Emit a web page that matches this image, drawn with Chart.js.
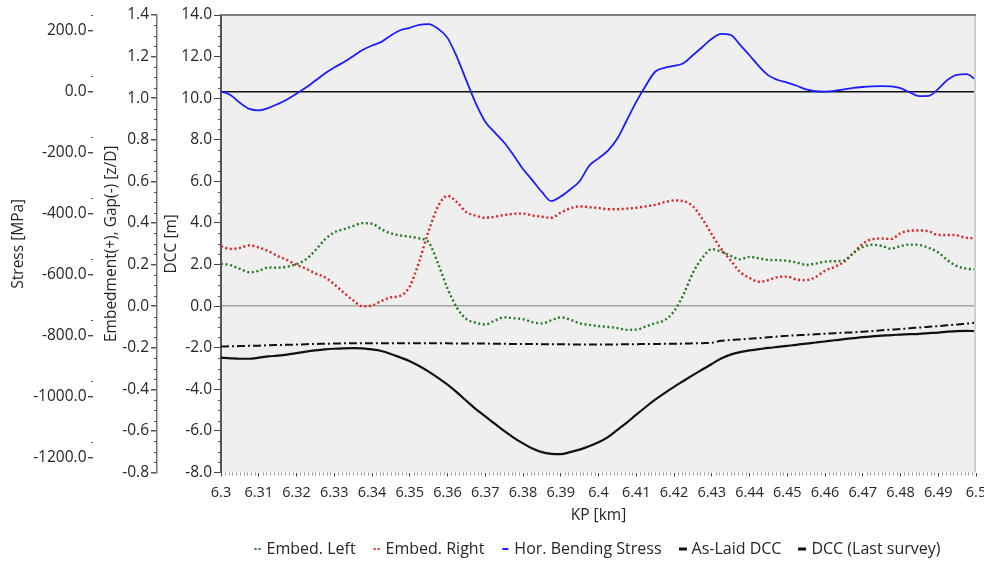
<!DOCTYPE html>
<html><head><meta charset="utf-8">
<script src="https://cdn.jsdelivr.net/npm/chart.js@4.4.0/dist/chart.umd.min.js"></script>
<style>html,body{margin:0;padding:0;background:#fff;}#wrap{width:984px;height:562px;position:relative;}</style>
</head><body><div id="wrap"><canvas id="c"></canvas></div>
<script>
// ---- data ----
const kp = [
 6.3000,6.3025,6.3050,6.3075,6.3100,6.3125,6.3150,6.3175,6.3200,6.3225,
 6.3250,6.3275,6.3300,6.3325,6.3350,6.3375,6.3400,6.3425,6.3450,6.3475,
 6.3500,6.3525,6.3550,6.3575,6.3600,6.3625,6.3650,6.3675,6.3700,6.3725,
 6.3750,6.3775,6.3800,6.3825,6.3850,6.3875,6.3900,6.3925,6.3950,6.3975,
 6.4000,6.4025,6.4050,6.4075,6.4100,6.4125,6.4150,6.4175,6.4200,6.4225,
 6.4250,6.4275,6.4300,6.4325,6.4350,6.4375,6.4400,6.4425,6.4450,6.4475,
 6.4500,6.4525,6.4550,6.4575,6.4600,6.4625,6.4650,6.4675,6.4700,6.4725,
 6.4750,6.4775,6.4800,6.4825,6.4850,6.4875,6.4900,6.4925,6.4950,6.4975,
 6.5000];
const embedLeft = [
 0.204,0.197,0.180,0.163,0.170,0.186,0.185,0.190,0.202,0.225,
 0.268,0.320,0.355,0.370,0.385,0.399,0.396,0.370,0.350,0.340,
 0.334,0.326,0.307,0.205,0.085,-0.008,-0.062,-0.080,-0.088,-0.070,
 -0.054,-0.058,-0.063,-0.077,-0.083,-0.068,-0.054,-0.065,-0.083,-0.090,
 -0.096,-0.100,-0.106,-0.114,-0.113,-0.098,-0.082,-0.068,-0.025,0.055,
 0.160,0.232,0.274,0.262,0.242,0.225,0.237,0.230,0.222,0.221,
 0.218,0.210,0.198,0.205,0.214,0.216,0.219,0.255,0.285,0.295,
 0.290,0.276,0.289,0.296,0.294,0.280,0.258,0.220,0.192,0.180,
 0.176];
const embedRight = [
 0.288,0.275,0.280,0.292,0.282,0.265,0.241,0.222,0.198,0.180,
 0.157,0.139,0.105,0.065,0.028,-0.001,0.003,0.025,0.042,0.050,
 0.095,0.215,0.360,0.480,0.530,0.500,0.452,0.435,0.425,0.430,
 0.438,0.444,0.445,0.436,0.430,0.425,0.450,0.470,0.480,0.476,
 0.472,0.466,0.466,0.469,0.473,0.480,0.487,0.500,0.508,0.505,
 0.480,0.420,0.345,0.275,0.220,0.165,0.135,0.117,0.125,0.140,
 0.142,0.128,0.125,0.140,0.170,0.188,0.212,0.255,0.300,0.322,
 0.325,0.323,0.350,0.363,0.364,0.360,0.342,0.342,0.340,0.328,
 0.327];
const horBendingStress = [
 -1,-12,-38,-58,-63,-55,-42,-27,-8,12,
 35,58,78,95,115,135,150,162,183,200,
 208,218,220,205,175,112,35,-40,-100,-135,
 -168,-210,-255,-292,-330,-360,-345,-322,-295,-245,
 -220,-195,-155,-95,-35,18,64,77,83,92,
 118,145,172,188,185,152,118,82,52,37,
 28,18,6,0,-1,1,6,11,14,16,
 17,16,10,-4,-16,-15,8,38,54,56,
 37];
const asLaidDCC = [
 -1.94,-1.93,-1.92,-1.91,-1.90,-1.88,-1.87,-1.86,-1.85,-1.83,
 -1.82,-1.81,-1.80,-1.79,-1.78,-1.78,-1.78,-1.78,-1.78,-1.78,
 -1.78,-1.79,-1.79,-1.79,-1.79,-1.80,-1.80,-1.80,-1.80,-1.81,
 -1.81,-1.82,-1.82,-1.82,-1.83,-1.83,-1.83,-1.84,-1.84,-1.84,
 -1.84,-1.84,-1.84,-1.83,-1.83,-1.82,-1.82,-1.81,-1.81,-1.80,
 -1.79,-1.78,-1.76,-1.67,-1.63,-1.60,-1.57,-1.54,-1.50,-1.46,
 -1.43,-1.40,-1.38,-1.35,-1.33,-1.30,-1.28,-1.26,-1.23,-1.20,
 -1.16,-1.13,-1.10,-1.06,-1.03,-0.99,-0.96,-0.92,-0.88,-0.84,
 -0.80];
const dccLastSurvey = [
 -2.48,-2.51,-2.53,-2.53,-2.48,-2.42,-2.38,-2.33,-2.26,-2.19,
 -2.13,-2.08,-2.05,-2.03,-2.02,-2.03,-2.08,-2.16,-2.30,-2.47,
 -2.65,-2.88,-3.15,-3.45,-3.78,-4.15,-4.55,-4.95,-5.30,-5.65,
 -6.00,-6.32,-6.60,-6.85,-7.02,-7.10,-7.12,-7.02,-6.90,-6.74,
 -6.55,-6.30,-5.95,-5.60,-5.22,-4.85,-4.50,-4.18,-3.88,-3.60,
 -3.32,-3.05,-2.78,-2.52,-2.33,-2.21,-2.13,-2.07,-2.01,-1.96,
 -1.91,-1.86,-1.80,-1.75,-1.70,-1.64,-1.59,-1.54,-1.49,-1.45,
 -1.42,-1.39,-1.37,-1.35,-1.33,-1.30,-1.27,-1.23,-1.20,-1.19,
 -1.20];
const stressTicks = [200, 0, -200, -400, -600, -800, -1000, -1200];
const embedTicks = [1.4, 1.2, 1.0, 0.8, 0.6, 0.4, 0.2, 0.0, -0.2, -0.4, -0.6, -0.8];
const dccTicks = [14, 12, 10, 8, 6, 4, 2, 0, -2, -4, -6, -8];
const kpTicks = [6.3,6.31,6.32,6.33,6.34,6.35,6.36,6.37,6.38,6.39,6.4,6.41,6.42,6.43,6.44,6.45,6.46,6.47,6.48,6.49,6.5];

// ---- chart ----
const FONT = "'Open Sans', sans-serif";
const TXT = '#262626';
const pts = arr => arr.map((v, i) => ({x: kp[i], y: v}));
const setTicks = arr => s => { s.ticks = arr.map(v => ({value: v})); };

// small legend symbols
function legendMark(color, kind) {
  const c = document.createElement('canvas');
  c.width = 8; c.height = 4;
  const g = c.getContext('2d');
  g.fillStyle = color;
  if (kind === 'dots') { g.fillRect(1, 1, 2, 2); g.fillRect(5, 1, 2, 2); }
  else if (kind === 'thin') { g.fillRect(1, 1, 6, 2); }
  else { g.fillRect(0, 0.5, 8, 3); }
  return c;
}

const plotDecor = {
  id: 'plotDecor',
  beforeDraw(chart) {
    const {ctx, chartArea: a} = chart;
    ctx.save();
    ctx.fillStyle = '#efefef';
    ctx.fillRect(a.left, a.top, a.right - a.left, a.bottom - a.top);
    ctx.restore();
  },
  afterDraw(chart) {
    const {ctx, chartArea: a, scales: s} = chart;
    ctx.save();
    ctx.strokeStyle = '#cfcfcf'; ctx.lineWidth = 2;
    ctx.beginPath(); ctx.moveTo(a.right - 1, a.top); ctx.lineTo(a.right - 1, a.bottom); ctx.stroke();
    ctx.strokeStyle = '#7d7d7d'; ctx.lineWidth = 2;
    ctx.beginPath(); ctx.moveTo(a.left, a.top); ctx.lineTo(a.right, a.top); ctx.stroke();
    // minor ticks
    ctx.strokeStyle = '#555'; ctx.lineWidth = 1;
    ctx.beginPath();
    for (let k = -16; k <= 28; k++) {
      if (k % 4 === 0) continue;
      const y1 = Math.round(s.yEmb.getPixelForValue(k * 0.05)) + 0.5;
      ctx.moveTo(s.yEmb.right - 3, y1); ctx.lineTo(s.yEmb.right, y1);
      const y2 = Math.round(s.yDcc.getPixelForValue(k * 0.5)) + 0.5;
      ctx.moveTo(s.yDcc.right - 3, y2); ctx.lineTo(s.yDcc.right, y2);
    }
    for (const v of stressTicks) {
      const y = Math.round(s.yStress.getPixelForValue(v + 50)) + 0.5;
      ctx.moveTo(s.yStress.right - 2, y); ctx.lineTo(s.yStress.right, y);
    }
    ctx.stroke();
    ctx.strokeStyle = '#999';
    ctx.beginPath();
    for (let k = 6301; k < 6500; k++) {
      if (k % 10 === 0) continue;
      const x = Math.round(s.x.getPixelForValue(k / 1000)) + 0.5;
      ctx.moveTo(x, a.bottom); ctx.lineTo(x, a.bottom + 3);
    }
    ctx.stroke();
    ctx.restore();
  }
};

new Chart(document.getElementById('c'), {
  type: 'line',
  data: {
    datasets: [
      {label: 'Embed. Left', data: pts(embedLeft), yAxisID: 'yEmb', borderColor: '#237a23', backgroundColor: '#237a23',
       borderWidth: 2.4, borderDash: [2, 2.6], pointRadius: 0, pointStyle: legendMark('#237a23', 'dots'), cubicInterpolationMode: 'monotone'},
      {label: 'Embed. Right', data: pts(embedRight), yAxisID: 'yEmb', borderColor: '#e01f1f', backgroundColor: '#e01f1f',
       borderWidth: 2.4, borderDash: [2, 2.6], pointRadius: 0, pointStyle: legendMark('#e01f1f', 'dots'), cubicInterpolationMode: 'monotone'},
      {label: 'Hor. Bending Stress', data: pts(horBendingStress), yAxisID: 'yStress', borderColor: '#1c1cff', backgroundColor: '#1c1cff',
       borderWidth: 1.8, pointRadius: 0, pointStyle: legendMark('#1c1cff', 'thin'), cubicInterpolationMode: 'monotone'},
      {label: 'As-Laid DCC', data: pts(asLaidDCC), yAxisID: 'yDcc', borderColor: '#111', backgroundColor: '#111',
       borderWidth: 2, borderDash: [8, 3, 2, 3], pointRadius: 0, pointStyle: legendMark('#111', 'thick'), cubicInterpolationMode: 'monotone'},
      {label: 'DCC (Last survey)', data: pts(dccLastSurvey), yAxisID: 'yDcc', borderColor: '#111', backgroundColor: '#111',
       borderWidth: 2.2, pointRadius: 0, pointStyle: legendMark('#111', 'thick'), cubicInterpolationMode: 'monotone'}
    ]
  },
  options: {
    responsive: true, maintainAspectRatio: false, animation: false,
    layout: {padding: {top: 15, right: 8, bottom: 0, left: 0}},
    plugins: {
      tooltip: {enabled: false},
      legend: {
        position: 'bottom', fullSize: false, maxHeight: 41,
        labels: {usePointStyle: true, pointStyleWidth: 2, padding: 20,
                 color: TXT, font: {family: FONT, size: 16}}
      }
    },
    scales: {
      x: {
        type: 'linear', position: 'bottom', min: 6.3, max: 6.5,
        afterBuildTicks: setTicks(kpTicks),
        border: {display: false},
        grid: {drawOnChartArea: false, tickLength: 4, color: '#444'},
        ticks: {autoSkip: false, maxRotation: 0, padding: 8, color: TXT, font: {family: FONT, size: 14.5},
                callback: v => String(Number(v.toFixed(2)))},
        title: {display: true, text: 'KP [km]', color: TXT, font: {family: FONT, size: 15.5}, padding: {top: 0, bottom: -4.3}},
        afterFit(s) { s.height = 48.5; s.paddingLeft = 0; s.paddingRight = 0; }
      },
      yStress: {
        position: 'left', weight: 3, min: -1250, max: 250,
        afterBuildTicks: setTicks(stressTicks),
        border: {display: false},
        grid: {drawOnChartArea: true, tickLength: 5, tickColor: '#444',
               color: c => (c.tick && c.tick.value === 0) ? '#111' : 'rgba(0,0,0,0)', lineWidth: 1.4},
        ticks: {padding: 1.5, color: TXT, font: {family: FONT, size: 15.5}, callback: v => v.toFixed(1)},
        title: {display: true, text: 'Stress [MPa]', color: TXT, font: {family: FONT, size: 15.5}, padding: {top: 9.5, bottom: 0}},
        afterFit(s) { s.width = 93; }
      },
      yEmb: {
        position: 'left', weight: 2, min: -0.8, max: 1.4,
        afterBuildTicks: setTicks(embedTicks),
        border: {display: true, color: '#777', width: 1.5},
        grid: {drawOnChartArea: true, tickLength: 6, tickColor: '#555',
               color: c => (c.tick && Math.abs(c.tick.value) < 1e-9) ? '#a5a5a5' : 'rgba(0,0,0,0)', lineWidth: 1.5},
        ticks: {padding: 2, color: TXT, font: {family: FONT, size: 15.5}, callback: v => v.toFixed(1)},
        title: {display: true, text: 'Embedment(+), Gap(-) [z/D]', color: TXT, font: {family: FONT, size: 15.5}, padding: {top: 9.4, bottom: 0}},
        afterFit(s) { s.width = 64; }
      },
      yDcc: {
        position: 'left', weight: 1, min: -8, max: 14,
        afterBuildTicks: setTicks(dccTicks),
        border: {display: true, color: '#555', width: 2},
        grid: {drawOnChartArea: false, tickLength: 7, color: '#444'},
        ticks: {padding: 2, color: TXT, font: {family: FONT, size: 15.5}, callback: v => v.toFixed(1)},
        title: {display: true, text: 'DCC [m]', color: TXT, font: {family: FONT, size: 15.5}, padding: {top: 5.7, bottom: 0}},
        afterFit(s) { s.width = 64; }
      }
    }
  },
  plugins: [plotDecor]
});
</script>
</body></html>
